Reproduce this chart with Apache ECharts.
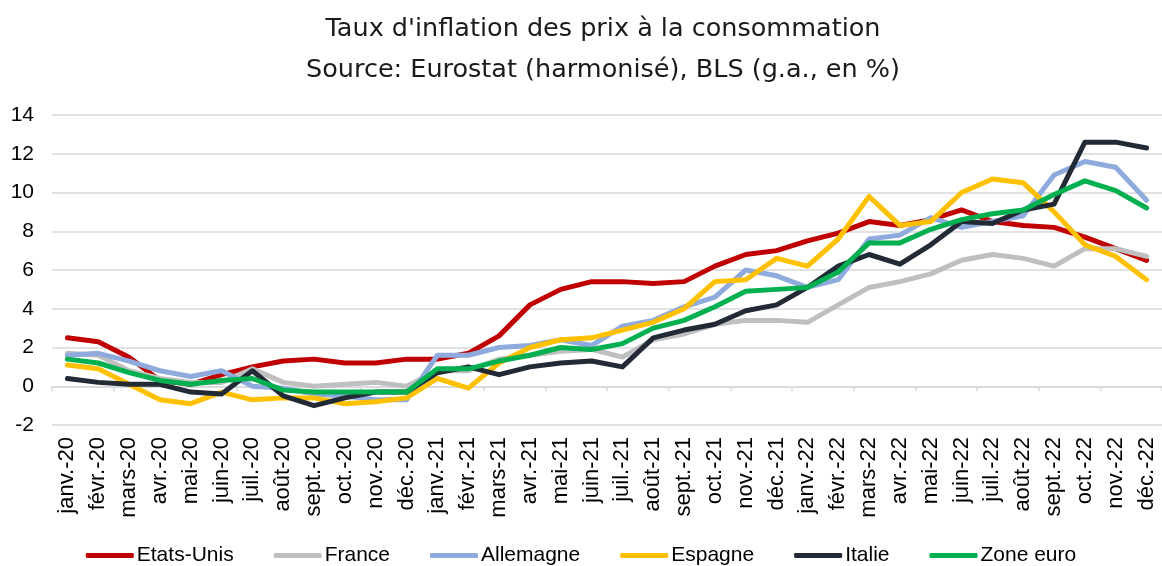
<!DOCTYPE html>
<html>
<head>
<meta charset="utf-8">
<script src="https://cdn.jsdelivr.net/npm/echarts@6/dist/echarts.min.js"></script>
<style>
  html, body { margin: 0; padding: 0; background: #fff; }
  #chart-container { width: 1162px; height: 566px; }
</style>
</head>
<body>
<div id="chart-container"></div>
<script>
var months = [
  'janv.-20', 'févr.-20', 'mars-20', 'avr.-20', 'mai-20', 'juin-20', 'juil.-20', 'août-20', 'sept.-20', 'oct.-20', 'nov.-20', 'déc.-20',
  'janv.-21', 'févr.-21', 'mars-21', 'avr.-21', 'mai-21', 'juin-21', 'juil.-21', 'août-21', 'sept.-21', 'oct.-21', 'nov.-21', 'déc.-21',
  'janv.-22', 'févr.-22', 'mars-22', 'avr.-22', 'mai-22', 'juin-22', 'juil.-22', 'août-22', 'sept.-22', 'oct.-22', 'nov.-22', 'déc.-22'
];

var etatsUnis = [2.5, 2.3, 1.5, 0.3, 0.1, 0.6, 1.0, 1.3, 1.4, 1.2, 1.2, 1.4,
  1.4, 1.7, 2.6, 4.2, 5.0, 5.4, 5.4, 5.3, 5.4, 6.2, 6.8, 7.0,
  7.5, 7.9, 8.5, 8.3, 8.6, 9.1, 8.5, 8.3, 8.2, 7.7, 7.1, 6.5];
var france = [1.7, 1.6, 0.8, 0.4, 0.2, 0.2, 0.9, 0.2, 0.0, 0.1, 0.2, 0.0,
  0.8, 0.8, 1.4, 1.6, 1.8, 1.9, 1.5, 2.4, 2.7, 3.2, 3.4, 3.4,
  3.3, 4.2, 5.1, 5.4, 5.8, 6.5, 6.8, 6.6, 6.2, 7.1, 7.1, 6.7];
var allemagne = [1.6, 1.7, 1.3, 0.8, 0.5, 0.8, 0.0, -0.1, -0.4, -0.5, -0.7, -0.7,
  1.6, 1.6, 2.0, 2.1, 2.4, 2.1, 3.1, 3.4, 4.1, 4.6, 6.0, 5.7,
  5.1, 5.5, 7.6, 7.8, 8.7, 8.2, 8.5, 8.8, 10.9, 11.6, 11.3, 9.6];
var espagne = [1.1, 0.9, 0.1, -0.7, -0.9, -0.3, -0.7, -0.6, -0.6, -0.9, -0.8, -0.6,
  0.4, -0.1, 1.2, 2.0, 2.4, 2.5, 2.9, 3.3, 4.0, 5.4, 5.5, 6.6,
  6.2, 7.6, 9.8, 8.3, 8.5, 10.0, 10.7, 10.5, 9.0, 7.3, 6.7, 5.5];
var italie = [0.4, 0.2, 0.1, 0.1, -0.3, -0.4, 0.8, -0.5, -1.0, -0.6, -0.3, -0.3,
  0.7, 1.0, 0.6, 1.0, 1.2, 1.3, 1.0, 2.5, 2.9, 3.2, 3.9, 4.2,
  5.1, 6.2, 6.8, 6.3, 7.3, 8.5, 8.4, 9.1, 9.4, 12.6, 12.6, 12.3];
var zoneEuro = [1.4, 1.2, 0.7, 0.3, 0.1, 0.3, 0.4, -0.2, -0.3, -0.3, -0.3, -0.3,
  0.9, 0.9, 1.3, 1.6, 2.0, 1.9, 2.2, 3.0, 3.4, 4.1, 4.9, 5.0,
  5.1, 5.9, 7.4, 7.4, 8.1, 8.6, 8.9, 9.1, 9.9, 10.6, 10.1, 9.2];

var seriesNames = ['Etats-Unis', 'France', 'Allemagne', 'Espagne', 'Italie', 'Zone euro'];
var seriesData = [etatsUnis, france, allemagne, espagne, italie, zoneEuro];
var colors = ['#C00000', '#BFBFBF', '#8FAADC', '#FFC000', '#222A35', '#00B050'];

var dom = document.getElementById('chart-container');
var myChart = echarts.init(dom, null, { renderer: 'canvas' });

var option = {
  color: colors,
  animation: false,
  textStyle: { fontFamily: '"Liberation Sans", Arial, sans-serif' },
  title: {
    text: "Taux d'inflation des prix à la consommation\nSource: Eurostat (harmonisé), BLS (g.a., en %)",
    left: 598,
    top: 4,
    textAlign: 'center',
    textStyle: {
      fontFamily: '"DejaVu Sans", sans-serif',
      fontWeight: 'normal',
      fontSize: 25.5,
      lineHeight: 41,
      color: '#1a1a1a'
    }
  },
  legend: {
    top: 540,
    left: 'center',
    itemWidth: 48,
    itemHeight: 5,
    itemGap: 40,
    icon: 'roundRect',
    textStyle: { fontSize: 21, color: '#000', padding: [0, 0, 0, -2] },
    data: seriesNames
  },
  grid: { left: 52, right: -12, top: 115, bottom: 141, containLabel: false },
  xAxis: [
    {
      type: 'category',
      data: months,
      boundaryGap: true,
      axisLine: { show: false, onZero: false },
      axisTick: { show: false },
      axisLabel: { rotate: 90, fontSize: 22, color: '#000', margin: 12, interval: 0 }
    },
    {
      type: 'category',
      data: months,
      boundaryGap: true,
      position: 'bottom',
      axisLine: { show: true, onZero: true, lineStyle: { color: '#d9d9d9', width: 1.5 } },
      axisTick: { show: true, length: 5, lineStyle: { color: '#d9d9d9', width: 1.5 } },
      axisLabel: { show: false }
    }
  ],
  yAxis: {
    type: 'value',
    min: -2,
    max: 14,
    interval: 2,
    axisLine: { show: false },
    axisTick: { show: false },
    axisLabel: { fontSize: 21, color: '#000', margin: 18 },
    splitLine: { lineStyle: { color: '#d9d9d9', width: 1.5 } }
  },
  series: seriesNames.map(function (name, i) {
    return {
      name: name,
      type: 'line',
      data: seriesData[i],
      symbol: 'none',
      lineStyle: { width: 5, color: colors[i], cap: 'round', join: 'round' }
    };
  })
};

myChart.setOption(option);
window.addEventListener('resize', myChart.resize);
</script>
</body>
</html>
